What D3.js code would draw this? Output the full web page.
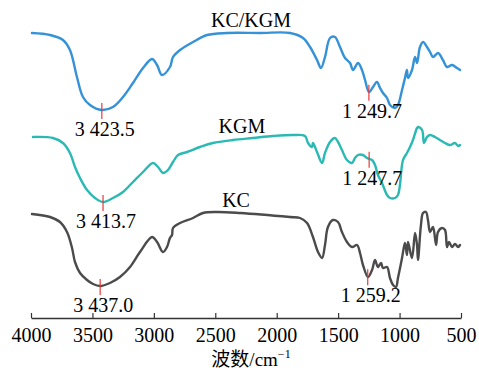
<!DOCTYPE html>
<html>
<head>
<meta charset="utf-8">
<script src="https://cdn.jsdelivr.net/npm/d3@7"></script>
<style>
  html, body { margin: 0; padding: 0; background: #fff; }
  svg { display: block; }
</style>
</head>
<body>
<svg id="chart" width="479" height="370"></svg>
<script>
// ---- Data (transmittance, arbitrary offset units) ----
const seriesNames = ["KC/KGM", "KGM", "KC"];

const kcKgmWavenumber = [3992,3845,3740,3683,3626,3577,3520,3424,3333,3251,3170,3088,3015,2974,2934,2869,2844,2787,2681,2567,2405,2136,1892,1786,1729,1672,1640,1607,1566,1526,1485,1444,1403,1379,1338,1306,1281,1249,1216,1184,1159,1135,1102,1078,1037,1013,980,956,940,931,899,874,858,834,809,777,752,728,687,647,614,573,533,508];
const kcKgmValue      = [285,283,278,268,241,221,213,208,211,221,235,250,259,253,243,251,261,268,276,283,285,285,285,280,271,258,250,261,280,281,271,260,255,248,255,248,238,226,231,236,230,225,220,213,210,213,228,240,248,240,248,261,255,271,276,271,266,261,265,258,251,253,250,248];

const kgmWavenumber = [3984,3821,3740,3683,3642,3601,3544,3479,3414,3333,3251,3170,3088,3007,2966,2926,2885,2844,2803,2730,2624,2519,2356,2193,2030,1867,1770,1745,1713,1705,1672,1631,1607,1566,1526,1501,1469,1428,1387,1363,1338,1298,1265,1224,1200,1176,1143,1102,1078,1037,1013,997,972,940,915,891,858,850,817,801,777,752,712,671,630,590,549,524,508];
const kgmValue      = [181,180,175,165,151,140,128,120,116,120,126,136,146,155,151,145,148,156,163,166,171,175,178,180,182,183,182,175,171,175,166,155,165,176,180,176,168,158,155,160,163,163,160,158,153,143,135,123,120,120,123,133,158,165,171,178,190,191,188,175,181,183,181,178,175,173,175,172,173];

const kcWavenumber = [3992,3845,3764,3707,3666,3642,3601,3544,3495,3438,3357,3276,3194,3113,3015,2974,2926,2893,2869,2852,2844,2787,2681,2600,2486,2299,1892,1810,1753,1705,1664,1631,1607,1583,1542,1501,1469,1428,1387,1346,1322,1298,1257,1224,1200,1176,1151,1135,1102,1078,1053,1029,1013,980,956,940,931,899,874,858,850,826,809,785,769,752,728,703,687,655,630,614,598,573,549,524,508];
const kcValue      = [104,101,96,86,70,56,45,38,34,32,35,41,51,66,81,76,66,71,80,83,90,95,100,105,106,105,101,100,95,81,66,60,73,91,98,96,86,76,71,73,65,53,41,48,58,51,55,50,51,40,33,31,40,60,75,63,76,60,85,73,58,93,105,106,98,86,91,73,86,90,88,71,76,71,74,71,73];

const peakSeries = [0, 0, 1, 1, 2, 2];
const peakWavenumber = [3423.5, 1249.7, 3413.7, 1247.7, 3437.0, 1259.2];
const peakLabels = ["3 423.5", "1 249.7", "3 413.7", "1 247.7", "3 437.0", "1 259.2"];

const xTicks = [4000, 3500, 3000, 2500, 2000, 1500, 1000, 500];
const seriesLabelAt = [2209, 2283, 2331];

// ---- Layout ----
const serif = "'Liberation Serif', 'Times New Roman', serif";
const cjk = "'Liberation Serif', 'Noto Sans CJK SC', serif";
const colors = ["#3592d6", "#2ab9b3", "#4b4b4b"];
const svg = d3.select("#chart");
const x = d3.scaleLinear().domain([4000, 500]).range([31, 461]);
const y = d3.scaleLinear().domain([0, 300]).range([318, 18]);

const series = [
  d3.zip(kcKgmWavenumber, kcKgmValue),
  d3.zip(kgmWavenumber, kgmValue),
  d3.zip(kcWavenumber, kcValue)
];

function valueAt(data, wn) {
  for (let i = 0; i < data.length - 1; i++) {
    const a = data[i], b = data[i + 1];
    if (wn <= a[0] && wn >= b[0]) {
      const t = (a[0] - wn) / (a[0] - b[0]);
      return a[1] + t * (b[1] - a[1]);
    }
  }
  return data[data.length - 1][1];
}

const line = d3.line()
  .x(d => x(d[0]))
  .y(d => y(d[1]))
  .curve(d3.curveCatmullRom.alpha(0.5));

series.forEach((data, i) => {
  svg.append("path")
    .datum(data)
    .attr("fill", "none")
    .attr("stroke", colors[i])
    .attr("stroke-width", 2.4)
    .attr("stroke-linejoin", "round")
    .attr("stroke-linecap", "round")
    .attr("d", line);

  const lw = seriesLabelAt[i];
  svg.append("text")
    .attr("x", x(lw))
    .attr("y", y(valueAt(data, lw)) - 6)
    .attr("text-anchor", "middle")
    .style("font-family", serif)
    .style("font-size", "20px")
    .style("fill", "#000")
    .text(seriesNames[i]);
});

// ---- Peak markers ----
peakWavenumber.forEach((wn, k) => {
  const data = series[peakSeries[k]];
  const px = x(wn);
  const py = y(valueAt(data, wn));
  svg.append("line")
    .attr("x1", px).attr("x2", px)
    .attr("y1", py - 7).attr("y2", py + 9)
    .attr("stroke", "#e8393a")
    .attr("stroke-width", 1.2);
  svg.append("text")
    .attr("x", px + 3)
    .attr("y", py + 26)
    .attr("text-anchor", "middle")
    .style("font-family", serif)
    .style("font-size", "20px")
    .style("fill", "#000")
    .text(peakLabels[k]);
});

// ---- Axis ----
const axis = d3.axisBottom(x)
  .tickValues(xTicks)
  .tickFormat(d3.format("d"))
  .tickSizeInner(-5)
  .tickSizeOuter(0)
  .tickPadding(10);

const gAxis = svg.append("g")
  .attr("transform", "translate(0,318)")
  .call(axis);
gAxis.select(".domain").attr("stroke", "#333").attr("stroke-width", 1.3);
gAxis.selectAll(".tick line").attr("stroke", "#333").attr("stroke-width", 1.2);
gAxis.selectAll(".tick text")
  .style("fill", "#000")
  .style("font-size", "20px")
  .style("font-family", serif);

const title = svg.append("text")
  .attr("x", 251)
  .attr("y", 366)
  .attr("text-anchor", "middle")
  .style("font-family", cjk)
  .style("font-size", "19px")
  .style("fill", "#000");
title.append("tspan").text("波数/cm");
title.append("tspan").attr("dy", -8).style("font-size", "12px").text("−1");
</script>
</body>
</html>
